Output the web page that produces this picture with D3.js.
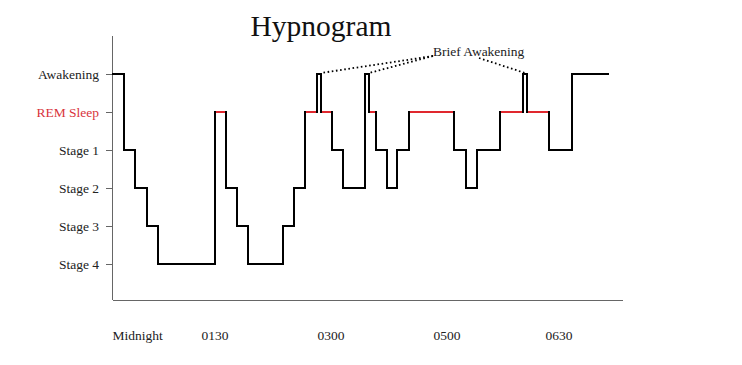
<!DOCTYPE html>
<html lang="en">
<head>
    <meta charset="UTF-8">
    <title>Hypnogram</title>
    <script src="https://d3js.org/d3.v7.min.js"></script>
    <style>
        body { margin: 0; background: #fff; }
        svg { display: block; font-family: "Liberation Serif", "DejaVu Serif", serif; }
        .axis path, .axis line { stroke: #666; stroke-width: 1px; shape-rendering: crispEdges; }
        .axis text { font-size: 13.5px; fill: #222; font-family: "Liberation Serif", serif; }
        .hypno { fill: none; stroke: #000; stroke-width: 2px; stroke-linejoin: miter; }
        .rem { stroke: #e0282e; stroke-width: 2px; }
        .note { fill: none; stroke: #000; stroke-width: 1.8px; stroke-dasharray: 1.6 2.6; }
    </style>
</head>
<body>
<div id="chart"></div>
<script>
    // sleep levels, top to bottom
    const levels = ["Awakening", "REM Sleep", "Stage 1", "Stage 2", "Stage 3", "Stage 4"];

    // time at which each stage starts, and the stage entered
    const changeTimes = [0, 12, 23, 35, 46, 103, 114, 125, 136, 171, 182, 193, 205, 209, 220,
        231, 253, 257, 264, 275, 285, 297, 342, 354, 365, 388, 411, 415, 437, 460];
    const stages = ["Awakening", "Stage 1", "Stage 2", "Stage 3", "Stage 4", "REM Sleep",
        "Stage 2", "Stage 3", "Stage 4", "Stage 3", "Stage 2", "REM Sleep", "Awakening",
        "REM Sleep", "Stage 1", "Stage 2", "Awakening", "REM Sleep", "Stage 1", "Stage 2",
        "Stage 1", "REM Sleep", "Stage 1", "Stage 2", "Stage 1", "REM Sleep", "Awakening",
        "REM Sleep", "Stage 1", "Awakening"];
    const endTime = 497;

    // x tick labels and where they sit
    const tickTimes = [0, 89, 205, 321, 433];
    const tickLabels = ["Midnight", "0130", "0300", "0500", "0630"];

    // brief awakenings pointed to by the annotation
    const briefTimes = [209, 257, 413];

    const width = 742, height = 365;

    const svg = d3.select("#chart").append("svg")
        .attr("width", width)
        .attr("height", height);

    const x = d3.scaleLinear().domain([0, 510]).range([112, 622]);
    const y = d3.scaleLinear().domain([-1, 6]).range([36, 302]);
    const lvl = name => levels.indexOf(name);

    // axes
    svg.append("g")
        .attr("class", "axis")
        .attr("transform", "translate(112,0)")
        .call(d3.axisLeft(y)
            .tickValues(d3.range(levels.length))
            .tickFormat(i => levels[i])
            .tickSize(6).tickSizeOuter(0).tickPadding(7))
        .call(g => g.select(".domain").attr("d", `M0,${y(-1)}V300`))
        .selectAll(".tick text")
        .style("fill", (d) => levels[d] === "REM Sleep" ? "#d8343c" : "#222");

    const xAxis = svg.append("g")
        .attr("class", "axis")
        .attr("transform", "translate(0,300)")
        .call(d3.axisBottom(x)
            .tickValues(tickTimes)
            .tickFormat((d, i) => tickLabels[i])
            .tickSize(0).tickSizeOuter(0).tickPadding(30));
    xAxis.selectAll(".tick text").attr("text-anchor", "start");

    // hypnogram step line
    const points = changeTimes.map((t, i) => [t, lvl(stages[i])]);
    points.push([endTime, lvl(stages[stages.length - 1])]);

    const line = d3.line()
        .x(d => x(d[0]))
        .y(d => y(d[1]))
        .curve(d3.curveStepAfter);

    svg.append("path")
        .datum(points)
        .attr("class", "hypno")
        .attr("d", line);

    // REM periods in red
    const remSegs = changeTimes.map((t, i) => ({
        start: t,
        end: i + 1 < changeTimes.length ? changeTimes[i + 1] : endTime,
        stage: stages[i]
    })).filter(d => d.stage === "REM Sleep");

    svg.selectAll(".rem")
        .data(remSegs)
        .enter().append("line")
        .attr("class", "rem")
        .attr("x1", d => x(d.start) + 1)
        .attr("x2", d => x(d.end) - 1)
        .attr("y1", y(lvl("REM Sleep")))
        .attr("y2", y(lvl("REM Sleep")));

    // annotation
    svg.append("text")
        .attr("x", x(321))
        .attr("y", 56)
        .attr("font-size", 13.5)
        .attr("fill", "#222")
        .text("Brief Awakening");

    const noteFrom = [[x(321), 56], [x(321), 56], [x(367), 58]];
    svg.selectAll(".note")
        .data(briefTimes)
        .enter().append("line")
        .attr("class", "note")
        .attr("x1", (d, i) => noteFrom[i][0])
        .attr("y1", (d, i) => noteFrom[i][1])
        .attr("x2", d => x(d))
        .attr("y2", y(lvl("Awakening")) - 1);

    // title
    svg.append("text")
        .attr("x", 321)
        .attr("y", 36)
        .attr("text-anchor", "middle")
        .attr("font-size", 29.5)
        .attr("fill", "#111")
        .text("Hypnogram");
</script>
</body>
</html>
